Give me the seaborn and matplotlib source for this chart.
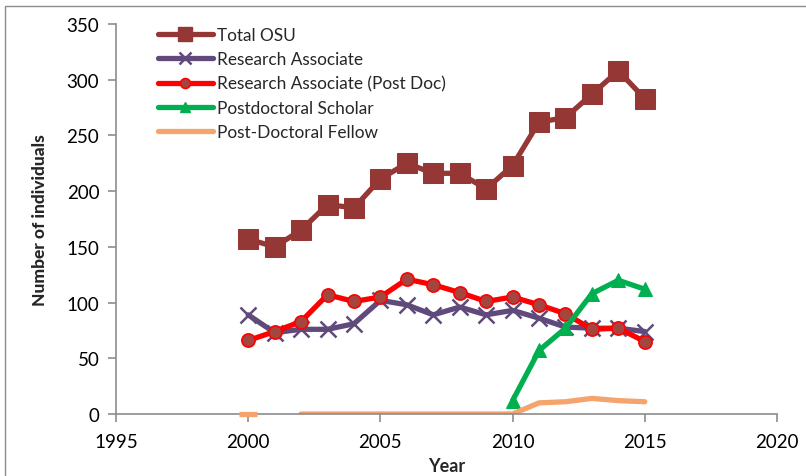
import numpy as np
import pandas as pd
import matplotlib
matplotlib.use("Agg")
import matplotlib.pyplot as plt
import seaborn as sns
from matplotlib.patches import Rectangle
from matplotlib.lines import Line2D

years = list(range(2000, 2016))
total_osu = [157, 150, 165, 188, 185, 211, 225, 216, 216, 202, 223, 262, 266, 287, 308, 283]
research_associate = [89, 73, 76, 76, 81, 102, 98, 89, 96, 89, 93, 86, 78, 77, 77, 74]
ra_post_doc = [66, 74, 83, 107, 101, 105, 121, 116, 109, 101, 105, 98, 90, 76, 77, 65]
postdoc_scholar = [np.nan] * 10 + [12, 57, 77, 108, 120, 112]
postdoc_fellow = [0, np.nan, 0, 0, 0, 0, 0, 0, 0, 0, 0, 10, 11, 14, 12, 11]

labels = ["Total OSU", "Research Associate", "Research Associate (Post Doc)",
          "Postdoctoral Scholar", "Post-Doctoral Fellow"]

sns.set_style("white")
plt.rcParams['font.family'] = ['Lato', 'DejaVu Sans']

fig = plt.figure(figsize=(8.06, 4.77), dpi=100)
ax = fig.add_axes([116/806, 1-415/477, (777-116)/806, (415-25)/477])

styles = [
    dict(color="#953735", lw=3.8, marker="s", ms=14, mfc="#953735", mec="#953735"),
    dict(color="#604A7B", lw=3.8, marker="x", ms=12, mew=1.8, mfc="#604A7B", mec="#604A7B"),
    dict(color="#FF0000", lw=3.8, marker="o", ms=9.5, mfc="#A5453F", mec="#FF0000", mew=1.2),
    dict(color="#00B050", lw=3.8, marker="^", ms=10, mfc="#00B050", mec="#00B050"),
    dict(color="#F5A46E", lw=3.8),
]
series = [total_osu, research_associate, ra_post_doc, postdoc_scholar, postdoc_fellow]

for vals, st in zip(series, styles):
    df = pd.DataFrame({"Year": years, "Value": vals})
    seg_id = df["Value"].isna().cumsum()
    df = df.assign(seg=seg_id).dropna()
    for _, sub in df.groupby("seg"):
        if len(sub) == 1 and "marker" not in st:
            ax.plot(sub["Year"], sub["Value"], color=st["color"], marker="_",
                    markersize=13, mew=3.8, linestyle="none", clip_on=False, zorder=3)
        else:
            sns.lineplot(data=sub, x="Year", y="Value", ax=ax, **st)

ax.set_xlim(1995, 2020)
ax.set_ylim(0, 350)
ax.set_xticks(range(1995, 2021, 5))
ax.set_yticks(range(0, 351, 50))
for s in ["top", "right"]:
    ax.spines[s].set_visible(False)
for s in ["left", "bottom"]:
    ax.spines[s].set_color("#8C8C8C")
    ax.spines[s].set_linewidth(1.2)
ax.tick_params(axis="both", which="major", length=6, width=1.2, color="#8C8C8C",
               direction="out", labelsize=13.5, labelcolor="black", pad=6)
ax.tick_params(axis="x", pad=8)
ax.tick_params(left=True, bottom=True)
ax.set_xlabel("Year", fontsize=13, fontweight="bold", labelpad=5)
ax.set_ylabel("Number of individuals", fontsize=12.5, fontweight="black", labelpad=13)

handles = []
for lab, st in zip(labels, styles):
    kw = {k: v for k, v in st.items()}
    if "ms" in kw:
        kw["ms"] = kw["ms"] * 0.75
    handles.append(Line2D([], [], label=lab, **kw))
leg = ax.legend(handles=handles, loc="upper left", bbox_to_anchor=(0.053, 1.01),
                frameon=False, fontsize=12.4, handlelength=3.2, labelspacing=0.48,
                handletextpad=0.25, borderaxespad=0)

fig.patches.append(Rectangle((5/806, -0.05), 1.2, 1 - 7/477 + 0.05, transform=fig.transFigure,
                             fill=False, edgecolor="#8C8C8C", lw=1.0))

fig.savefig("out.png", dpi=100)
